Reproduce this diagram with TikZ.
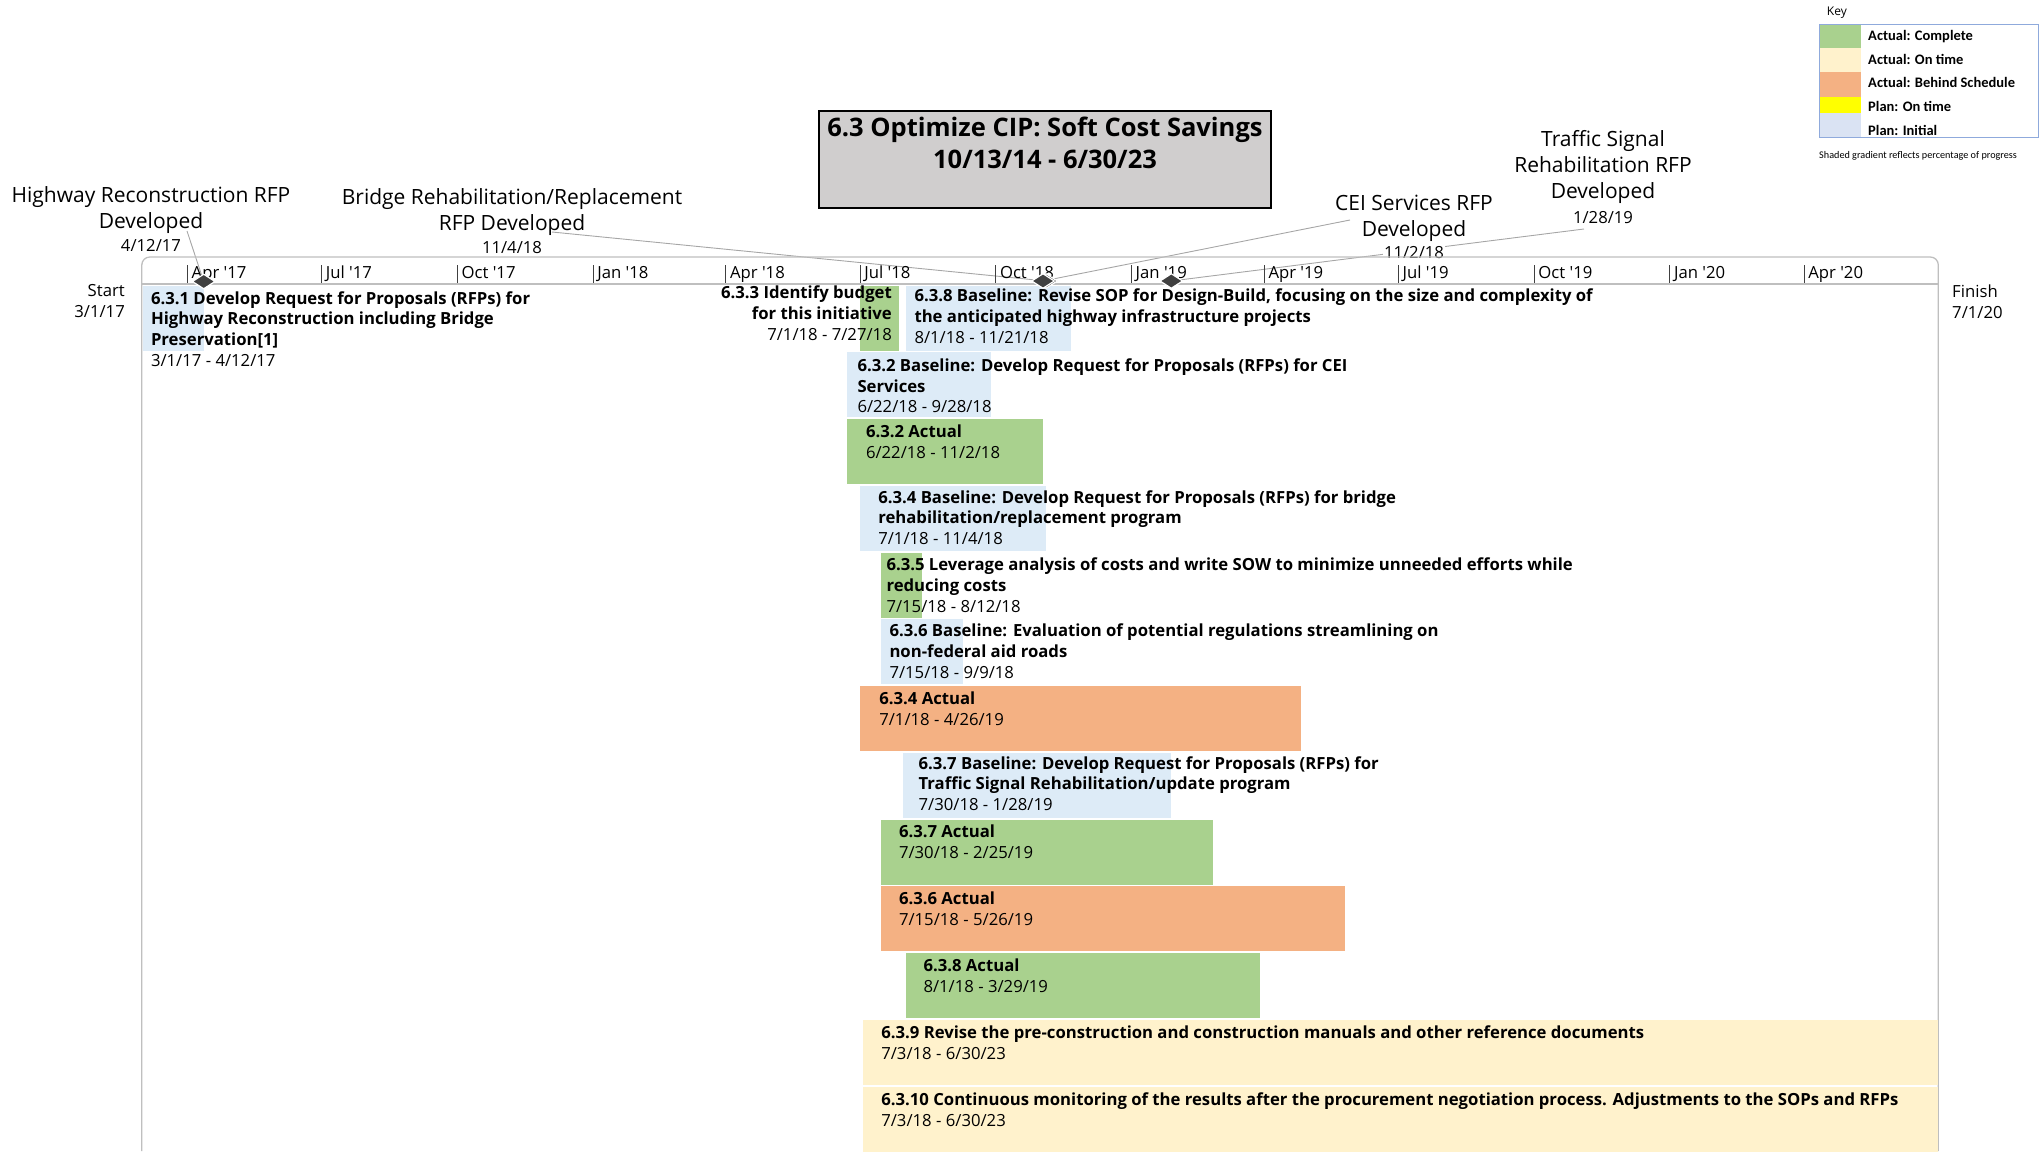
\documentclass[tikz,border=0pt]{standalone}
\usepackage{fontspec}
\setmainfont{Open Sans}
\newfontfamily\keyfont{Carlito}
\usetikzlibrary{shapes.geometric,positioning}

\definecolor{planblue}{HTML}{DDEBF7}
\definecolor{keyblue}{HTML}{DAE3F3}
\definecolor{donegreen}{HTML}{A9D18E}
\definecolor{lateorange}{HTML}{F4B183}
\definecolor{ontimecream}{HTML}{FFF2CC}
\definecolor{planyellow}{HTML}{FFFF00}
\definecolor{titlegray}{HTML}{D0CECE}
\definecolor{framegray}{HTML}{BFBFBF}
\definecolor{leadgray}{HTML}{A6A6A6}
\definecolor{tickgray}{HTML}{404040}
\definecolor{msdark}{HTML}{404040}
\definecolor{keyborder}{HTML}{8FAADC}

\begin{document}
\begin{tikzpicture}[x=1pt,y=-1pt,
	bar/.style={inner sep=0,outer sep=0,minimum height=65pt,anchor=north west},
	task/.style={inner sep=0,align=left,font=\fontsize{16.7}{20.8}\selectfont,execute at begin node=\strut},
	mslabel/.style={inner sep=0,align=center,anchor=north,font=\fontsize{21}{26}\selectfont,execute at begin node=\strut},
	msdate/.style={inner sep=1pt,anchor=base,fill=white,font=\fontsize{16.7}{20.8}\selectfont},
	milestone/.style={diamond,fill=msdark,draw=white,line width=1.2pt,minimum width=23pt,minimum height=15pt,inner sep=0},
	lead/.style={draw=leadgray,line width=0.9pt},
	keyitem/.style={anchor=base west,inner sep=0,font=\keyfont\bfseries\fontsize{14.5}{17}\selectfont}]
									\useasboundingbox (0,0) rectangle (2042,1151);

									\node[draw=black,line width=2pt,fill=titlegray,minimum width=452pt,minimum height=97pt,inner sep=0,anchor=north west] (titleBox) at (818,110) {};
									\node[inner sep=0,anchor=north,align=center,font=\bfseries\fontsize{25.5}{32}\selectfont,execute at begin node=\strut] (titleText) at (1045,116.6) {6.3 Optimize CIP: Soft Cost Savings\\10/13/14 - 6/30/23};

									\node[anchor=base west,inner sep=0,font=\fontsize{12}{14}\selectfont] (keyTitle) at (1826.7,15) {Key};
									\foreach \c/\t/\b/\y/\s [count=\k] in {donegreen/24.3/47.5/40.7/Actual: Complete,ontimecream/47.5/71.7/64.3/Actual: On time,lateorange/71.7/96.7/87.3/Actual: Behind Schedule,planyellow/96.7/113.3/111/Plan: On time,keyblue/113.3/137.7/135/Plan: Initial}{
										\fill[\c] (1819,\t) rectangle (1861,\b);
										\node[keyitem] (key\k) at (1868,\y) {\s};
									}
									\draw[keyborder,line width=1pt] (1819,24.3) rectangle (2038,137.7);
									\node[anchor=base west,inner sep=0,font=\keyfont\fontsize{10.2}{12}\selectfont] (keyNote) at (1819,158) {Shaded gradient reflects percentage of progress};

									\coordinate (msHwy) at (203.7,281.5);
									\coordinate (msBridge) at (1046,281);
									\coordinate (msCEI) at (1043,281);
									\coordinate (msTraffic) at (1171.3,281);
									\coordinate (hwyEnd) at (187,231);
									\coordinate (bridgeEnd) at (552,232);
									\coordinate (ceiEnd) at (1350,220);
									\coordinate (trafficEnd) at (1584,229);
									\draw[lead] (msHwy) -- (hwyEnd) (msBridge) -- (bridgeEnd) (msCEI) -- (ceiEnd) (msTraffic) -- (trafficEnd);

									\node[mslabel] (hwyLabel) at (151,186.3) {Highway Reconstruction RFP\\Developed};
									\node[msdate] (hwyDate) at (151,251) {4/12/17};
									\node[mslabel] (bridgeLabel) at (512,188.3) {Bridge Rehabilitation/Replacement\\RFP Developed};
									\node[msdate] (bridgeDate) at (512,253) {11/4/18};
									\node[mslabel] (ceiLabel) at (1414,195.3) {CEI Services RFP\\Developed};
									\node[msdate] (ceiDate) at (1414,258) {11/2/18};
									\node[mslabel] (trafficLabel) at (1603,130.3) {Traffic Signal\\Rehabilitation RFP\\Developed};
									\node[msdate] (trafficDate) at (1603,223) {1/28/19};

									\draw[framegray,line width=1.3pt,rounded corners=8pt] (141.8,1151) -- (141.8,257) -- (1938.3,257) -- (1938.3,1151);
									\draw[framegray,line width=1.3pt] (141.8,284) -- (1938.3,284);
									\foreach \x/\m [count=\n] in {187.5/Apr \textquotesingle17,321.7/Jul \textquotesingle17,457.4/Oct \textquotesingle17,593.1/Jan \textquotesingle18,725.9/Apr \textquotesingle18,860.1/Jul \textquotesingle18,995.8/Oct \textquotesingle18,1131.5/Jan \textquotesingle19,1264.3/Apr \textquotesingle19,1398.5/Jul \textquotesingle19,1534.2/Oct \textquotesingle19,1669.9/Jan \textquotesingle20,1804.1/Apr \textquotesingle20}{
										\draw[tickgray,line width=0.9pt] (\x,265) -- (\x,283);
										\node[anchor=base west,inner sep=0,font=\fontsize{16.7}{20.8}\selectfont] (tick\n) at (\x+4,278.7) {\m};
									}

									\foreach \n/\l/\w/\r/\c in {b631/142.8/60.9/0/planblue,b633/860.1/38.4/0/donegreen,b638/905.8/165.2/0/planblue,b632/846.8/144.6/1/planblue,b632a/846.8/196.2/2/donegreen,b634/860.1/185.9/3/planblue,b635/880.8/41.3/4/donegreen,b636/880.8/82.6/5/planblue,b634a/860.1/441/6/lateorange,b637/902.9/268.4/7/planblue,b637a/880.8/331.8/8/donegreen,b636a/880.8/464.6/9/lateorange,b638a/905.8/354/10/donegreen,b639/863.1/1075.2/11/ontimecream,b6310/863.1/1075.2/12/ontimecream}
										\node[bar,fill=\c,minimum width=\w pt] (\n) at (\l,{285.5+66.75*\r}) {};

									\node[milestone] (hwyMark) at (msHwy) {};
									\node[milestone] (bridgeMark) at (msBridge) {};
									\node[milestone] (ceiMark) at (msCEI) {};
									\node[milestone] (trafficMark) at (msTraffic) {};

									\node[task,below right=5.6pt and 8pt of b631.north west] (t631) {\textbf{6.3.1 Develop Request for Proposals (RFPs) for}\\\textbf{Highway Reconstruction including Bridge}\\\textbf{Preservation[1]}\\3/1/17 - 4/12/17};
									\node[task,align=right,below left=0pt and 6.5pt of b633.north east,yshift=-0.4pt] (t633) {\textbf{6.3.3 Identify budget}\\\textbf{for this initiative}\\7/1/18 - 7/27/18};
									\node[task,below right=3pt and 8.5pt of b638.north west] (t638) {\textbf{6.3.8 Baseline: Revise SOP for Design-Build, focusing on the size and complexity of}\\\textbf{the anticipated highway infrastructure projects}\\8/1/18 - 11/21/18};
									\node[task,below right=6pt and 10.5pt of b632.north west] (t632) {\textbf{6.3.2 Baseline: Develop Request for Proposals (RFPs) for CEI}\\\textbf{Services}\\6/22/18 - 9/28/18};
									\node[task,below right=5.4pt and 19pt of b632a.north west] (t632a) {\textbf{6.3.2 Actual}\\6/22/18 - 11/2/18};
									\node[task,below right=4.4pt and 18pt of b634.north west] (t634) {\textbf{6.3.4 Baseline: Develop Request for Proposals (RFPs) for bridge}\\\textbf{rehabilitation/replacement program}\\7/1/18 - 11/4/18};
									\node[task,below right=5pt and 5.5pt of b635.north west] (t635) {\textbf{6.3.5 Leverage analysis of costs and write SOW to minimize unneeded efforts while}\\\textbf{reducing costs}\\7/15/18 - 8/12/18};
									\node[task,below right=4.4pt and 8.5pt of b636.north west] (t636) {\textbf{6.3.6 Baseline: Evaluation of potential regulations streamlining on}\\\textbf{non-federal aid roads}\\7/15/18 - 9/9/18};
									\node[task,below right=6pt and 19pt of b634a.north west] (t634a) {\textbf{6.3.4 Actual}\\7/1/18 - 4/26/19};
									\node[task,below right=3.4pt and 15.5pt of b637.north west] (t637) {\textbf{6.3.7 Baseline: Develop Request for Proposals (RFPs) for}\\\textbf{Traffic Signal Rehabilitation/update program}\\7/30/18 - 1/28/19};
									\node[task,below right=5.4pt and 18pt of b637a.north west] (t637a) {\textbf{6.3.7 Actual}\\7/30/18 - 2/25/19};
									\node[task,below right=5.4pt and 18pt of b636a.north west] (t636a) {\textbf{6.3.6 Actual}\\7/15/18 - 5/26/19};
									\node[task,below right=5.4pt and 17.5pt of b638a.north west] (t638a) {\textbf{6.3.8 Actual}\\8/1/18 - 3/29/19};
									\node[task,below right=6pt and 18pt of b639.north west] (t639) {\textbf{6.3.9 Revise the pre-construction and construction manuals and other reference documents}\\7/3/18 - 6/30/23};
									\node[task,below right=6pt and 18pt of b6310.north west] (t6310) {\textbf{6.3.10 Continuous monitoring of the results after the procurement negotiation process. Adjustments to the SOPs and RFPs}\\7/3/18 - 6/30/23};

									\node[task,align=right,anchor=north east] (start) at (125,284.6) {Start\\3/1/17};
									\node[task,anchor=north west] (finish) at (1952,284.6) {Finish\\7/1/20};
						\end{tikzpicture}
\end{document}
